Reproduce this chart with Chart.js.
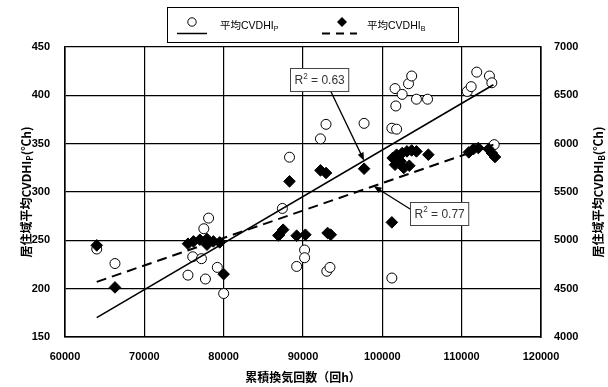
<!DOCTYPE html>
<html>
<head>
<meta charset="utf-8">
<script src="https://cdn.jsdelivr.net/npm/chart.js@4.4.0/dist/chart.umd.min.js"></script>
<style>
  html, body { margin: 0; padding: 0; background: #fff; }
  #wrap { width: 608px; height: 387px; }
</style>
</head>
<body>
<div id="wrap"><canvas id="chart" width="608" height="387"></canvas></div>
<script>
// cumulative air changes (x) and CVDHI_P (open circles, left axis)
const airP = [64000, 66300, 75500, 76100, 77200, 77500, 78100, 77700, 79200, 80000,
              87400, 88300, 89200, 90200, 90200, 93000, 93400, 92200, 92900, 97700,
              101200, 101800, 101700, 101200, 101600, 102500, 103300, 103700, 104300, 105700,
              110700, 111200, 111900, 113500, 113800, 114100];
const cvdhiP = [241, 226, 214, 233, 231, 262, 273, 210, 222, 195,
                283, 336, 223, 240, 232, 218, 222, 355, 370, 371,
                366, 365, 389, 211, 407, 401, 412, 420, 396, 396,
                404, 409, 424, 420, 413, 349];

// cumulative air changes (x) and CVDHI_B (black diamonds, right axis)
const airB = [64000, 66300, 75500, 76200, 77000, 77900, 77900, 78700, 79500, 80000,
              86900, 87000, 87500, 88300, 89200, 90300, 92200, 92900, 93100, 93500,
              97700, 101200, 101300, 101800, 102500, 103100, 103700, 104300, 101600, 102700,
              103400, 102300, 105800, 110900, 111500, 112100, 113400, 113800, 114200];
const cvdhiB = [4948, 4513, 4965, 4989, 5006, 5014, 4955, 4989, 4979, 4650,
                5050, 5058, 5110, 5610, 5048, 5058, 5724, 5697, 5076, 5058,
                5741, 5186, 5852, 5886, 5903, 5920, 5930, 5920, 5782, 5748,
                5772, 5817, 5886, 5910, 5945, 5955, 5945, 5903, 5862];

// regression lines, end points
const fitX = [64000, 114000];
const fitP = [170, 411];
const fitB = [4570, 5990];

// R² labels: box centre (x, CVDHI_P) and where the arrow points (x on the fit line)
const r2Labels = [
  { text: '0.63', x: 92000, y: 416, tipX: 97700, line: 'P', tail: 'bottom' },
  { text: '0.77', x: 107100, y: 278, tipX: 98900, line: 'B', tail: 'left' }
];

const tickFont = { family: '"Liberation Sans", Arial, sans-serif', size: 11, weight: 'bold' };
const jpFamily = '"Noto Sans CJK JP", sans-serif';
const plainTick = v => String(v);

function toPts(xs, ys) {
  return xs.map((x, i) => ({ x: x, y: ys[i] }));
}

function lerp(xs, ys, x) {
  return ys[0] + (ys[1] - ys[0]) * (x - xs[0]) / (xs[1] - xs[0]);
}

// text run with sub / superscript pieces, textBaseline middle
function runWidth(ctx, parts, size, weight, family) {
  let w = 0;
  parts.forEach(p => {
    const s = (p.sub || p.sup) ? size * 0.68 : size;
    ctx.font = `${weight} ${s}px ${family}`;
    w += ctx.measureText(p.t).width;
  });
  return w;
}
function drawRun(ctx, parts, x, y, size, weight, family) {
  parts.forEach(p => {
    const s = (p.sub || p.sup) ? size * 0.68 : size;
    ctx.font = `${weight} ${s}px ${family}`;
    const dy = p.sub ? size * 0.32 : (p.sup ? -size * 0.35 : 0);
    ctx.fillText(p.t, x, y + dy);
    x += ctx.measureText(p.t).width;
  });
}

function arrow(ctx, x1, y1, x2, y2) {
  const a = Math.atan2(y2 - y1, x2 - x1);
  ctx.beginPath();
  ctx.moveTo(x1, y1);
  ctx.lineTo(x2 - Math.cos(a) * 5, y2 - Math.sin(a) * 5);
  ctx.stroke();
  ctx.beginPath();
  ctx.moveTo(x2, y2);
  ctx.lineTo(x2 - Math.cos(a) * 8 + Math.sin(a) * 3.2, y2 - Math.sin(a) * 8 - Math.cos(a) * 3.2);
  ctx.lineTo(x2 - Math.cos(a) * 8 - Math.sin(a) * 3.2, y2 - Math.sin(a) * 8 + Math.cos(a) * 3.2);
  ctx.closePath();
  ctx.fill();
}

const decor = {
  id: 'decor',
  afterDatasetsDraw(chart) {
    const ctx = chart.ctx;
    const sx = chart.scales.x, sy = chart.scales.y, sy1 = chart.scales.y1;
    ctx.save();
    ctx.strokeStyle = '#000';
    ctx.fillStyle = '#000';
    ctx.lineWidth = 1.3;
    r2Labels.forEach(l => {
      const cx = sx.getPixelForValue(l.x), cy = sy.getPixelForValue(l.y);
      const parts = [{ t: 'R' }, { t: '2', sup: true }, { t: ' = ' + l.text }];
      const fam = '"Liberation Sans", Arial, sans-serif';
      const w = runWidth(ctx, parts, 12, 'normal', fam) + 8, h = 23;
      const bx = Math.round(cx - w / 2) + 0.5, by = Math.round(cy - h / 2) + 0.5;
      const tipPx = sx.getPixelForValue(l.tipX);
      const tipPy = l.line === 'P' ? sy.getPixelForValue(lerp(fitX, fitP, l.tipX))
                                   : sy1.getPixelForValue(lerp(fitX, fitB, l.tipX));
      const tail = l.tail === 'bottom' ? [cx + 12, by + h] : [bx, cy - 4];
      ctx.fillStyle = '#000';
      arrow(ctx, tail[0], tail[1], tipPx, tipPy);
      ctx.fillStyle = '#fff';
      ctx.fillRect(bx, by, w, h);
      ctx.strokeStyle = '#444';
      ctx.lineWidth = 1;
      ctx.strokeRect(bx, by, w, h);
      ctx.fillStyle = '#333';
      ctx.textBaseline = 'middle';
      ctx.textAlign = 'left';
      drawRun(ctx, parts, bx + 4, cy + 1, 12, 'normal', fam);
      ctx.strokeStyle = '#000';
      ctx.lineWidth = 1.3;
    });
    ctx.restore();
  },
  afterDraw(chart) {
    const ctx = chart.ctx;
    const area = chart.chartArea;
    ctx.save();
    ctx.fillStyle = '#000';
    ctx.strokeStyle = '#000';
    ctx.textBaseline = 'middle';
    ctx.textAlign = 'left';

    // legend box
    ctx.lineWidth = 1;
    ctx.strokeRect(167.5, 7.5, 291, 35);
    // open circle + solid line
    ctx.beginPath();
    ctx.arc(192, 22, 4.2, 0, Math.PI * 2);
    ctx.fillStyle = '#fff';
    ctx.fill();
    ctx.stroke();
    ctx.lineWidth = 1.5;
    ctx.beginPath();
    ctx.moveTo(177, 33.5);
    ctx.lineTo(207, 33.5);
    ctx.stroke();
    // diamond + dashed line
    ctx.fillStyle = '#000';
    ctx.beginPath();
    ctx.moveTo(342, 17); ctx.lineTo(347, 22); ctx.lineTo(342, 27); ctx.lineTo(337, 22);
    ctx.closePath();
    ctx.fill();
    ctx.lineWidth = 2;
    ctx.setLineDash([8, 6]);
    ctx.beginPath();
    ctx.moveTo(322, 33.5);
    ctx.lineTo(357, 33.5);
    ctx.stroke();
    ctx.setLineDash([]);
    const lfam = '"Liberation Sans", "Noto Sans CJK JP", sans-serif';
    drawRun(ctx, [{ t: '平均CVDHI' }, { t: 'P', sub: true }], 220, 26, 10.5, 'normal', lfam);
    drawRun(ctx, [{ t: '平均CVDHI' }, { t: 'B', sub: true }], 367, 26, 10.5, 'normal', lfam);

    // x axis title
    const xt = [{ t: '累積換気回数（回h）' }];
    const xw = runWidth(ctx, xt, 12, 'bold', jpFamily);
    drawRun(ctx, xt, (area.left + area.right) / 2 - xw / 2, 377, 12, 'bold', jpFamily);

    // y axis titles, rotated
    const midY = (area.top + area.bottom) / 2;
    [[26, 'P'], [598, 'B']].forEach(([px, s]) => {
      const parts = [{ t: '居住域平均CVDHI' }, { t: s, sub: true }, { t: '(℃h)' }];
      const w = runWidth(ctx, parts, 12, 'bold', jpFamily);
      ctx.save();
      ctx.translate(px, midY);
      ctx.rotate(-Math.PI / 2);
      drawRun(ctx, parts, -w / 2, 0, 12, 'bold', jpFamily);
      ctx.restore();
    });
    ctx.restore();
  }
};

new Chart(document.getElementById('chart'), {
  data: {
    datasets: [
      {
        type: 'line', data: toPts(fitX, fitP), yAxisID: 'y',
        borderColor: '#000', borderWidth: 1.6, pointRadius: 0, fill: false
      },
      {
        type: 'line', data: toPts(fitX, fitB), yAxisID: 'y1',
        borderColor: '#000', borderWidth: 2, borderDash: [10, 6], pointRadius: 0, fill: false
      },
      {
        type: 'scatter', data: toPts(airB, cvdhiB), yAxisID: 'y1',
        pointStyle: 'rectRot', pointRadius: 5.8,
        backgroundColor: '#000', borderColor: '#000', borderWidth: 1
      },
      {
        type: 'scatter', data: toPts(airP, cvdhiP), yAxisID: 'y',
        pointStyle: 'circle', pointRadius: 5,
        backgroundColor: '#fff', borderColor: '#000', borderWidth: 1
      }
    ]
  },
  options: {
    responsive: false,
    animation: false,
    events: [],
    layout: { padding: { top: 47, left: 0, right: 0, bottom: 0 } },
    plugins: { legend: { display: false }, tooltip: { enabled: false } },
    scales: {
      x: {
        type: 'linear', min: 60000, max: 120000,
        ticks: { stepSize: 10000, font: tickFont, color: '#000', padding: 13, maxRotation: 0, callback: plainTick },
        grid: { color: '#000', lineWidth: 1.2, drawTicks: false },
        border: { color: '#000', width: 1.6 },
        afterFit(s) { s.height = 50; }
      },
      y: {
        position: 'left', min: 150, max: 450,
        ticks: { stepSize: 50, font: tickFont, color: '#000', padding: 15, callback: plainTick },
        grid: { color: '#000', lineWidth: 1.2, drawTicks: false },
        border: { color: '#000', width: 1.6 },
        afterFit(s) { s.width = 65; }
      },
      y1: {
        position: 'right', min: 4000, max: 7000,
        ticks: { stepSize: 500, font: tickFont, color: '#000', padding: 13, callback: plainTick },
        grid: { drawOnChartArea: false, drawTicks: false },
        border: { color: '#000', width: 1.6 },
        afterFit(s) { s.width = 67; }
      }
    }
  },
  plugins: [decor]
});
</script>
</body>
</html>
